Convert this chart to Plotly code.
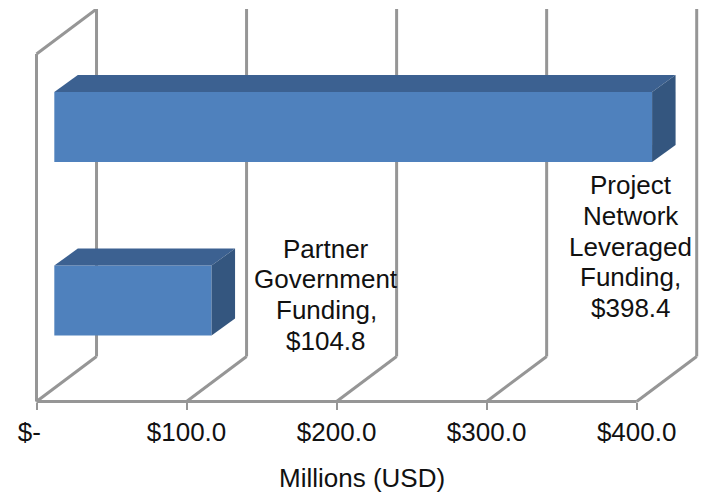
import plotly.graph_objects as go

categories = ["Partner Government Funding", "Project Network Leveraged Funding"]
values = [104.8, 398.4]
label_lines = [["Partner", "Government", "Funding,", "$104.8"],
               ["Project", "Network", "Leveraged", "Funding,", "$398.4"]]
tick_vals = [0, 100, 200, 300, 400]
tick_text = ["$-\u00a0\u00a0", "$100.0", "$200.0", "$300.0", "$400.0"]
axis_title = "Millions (USD)"

W, H = 701, 493
PXX = 1.5                     # px per value unit
ZERO = 36.7                   # px of value 0
PAD = 4.5                     # room so wall lines are not cut by the plot edge
L, R = ZERO - PAD, 701.0
T, B = 9.0, 401.7 + PAD
XMIN, XMAX = -PAD / PXX, (R - ZERO) / PXX
CAT = 173.7                   # px per category
FLOOR = -101 / CAT
YTOP = FLOOR + (401.7 - T) / CAT
YLOW = FLOOR - PAD / CAT
dx_wall, dy_wall = 60 / PXX, 45 / CAT
dx_bar, dy_bar = 23.5 / PXX, 17 / CAT
base = 17.8 / PXX
bar_w = 70 / CAT
wall_front_top = FLOOR + (401.7 - 54) / CAT

FRONT, TOP, SIDE = "#4F81BD", "#3C6191", "#34567F"
GRID = "#969696"
FONT = "Liberation Sans"

fig = go.Figure()
ys = list(range(len(values)))
fig.add_trace(go.Bar(y=ys, x=values, base=[base] * len(values), orientation="h",
                     width=bar_w, marker=dict(color=FRONT, line=dict(width=0)),
                     hoverinfo="skip", showlegend=False))
for i, v in zip(ys, values):
    x0, x1 = base, base + v
    y0, y1 = i - bar_w / 2, i + bar_w / 2
    fig.add_trace(go.Scatter(x=[x0, x0 + dx_bar, x1 + dx_bar, x1, x0],
                             y=[y1, y1 + dy_bar, y1 + dy_bar, y1, y1],
                             mode="lines", fill="toself", fillcolor=TOP,
                             line=dict(width=0), hoverinfo="skip", showlegend=False))
    fig.add_trace(go.Scatter(x=[x1, x1 + dx_bar, x1 + dx_bar, x1, x1],
                             y=[y0, y0 + dy_bar, y1 + dy_bar, y1, y0],
                             mode="lines", fill="toself", fillcolor=SIDE,
                             line=dict(width=0), hoverinfo="skip", showlegend=False))

shapes = []
line = dict(color=GRID, width=3)
for t in tick_vals:
    shapes.append(dict(type="line", layer="below", xref="x", yref="y", x0=t, x1=t + dx_wall,
                       y0=FLOOR, y1=FLOOR + dy_wall, line=line))
    shapes.append(dict(type="line", layer="below", xref="x", yref="y", x0=t + dx_wall, x1=t + dx_wall,
                       y0=FLOOR + dy_wall, y1=YTOP, line=line))
shapes.append(dict(type="line", layer="below", xref="x", yref="y", x0=0, x1=0,
                   y0=FLOOR, y1=wall_front_top, line=line))
shapes.append(dict(type="line", layer="below", xref="x", yref="y", x0=0, x1=dx_wall,
                   y0=wall_front_top, y1=YTOP, line=line))
shapes.append(dict(type="line", layer="below", xref="x", yref="y", x0=tick_vals[0], x1=tick_vals[-1],
                   y0=FLOOR, y1=FLOOR, line=line))

def px(wx):
    return (wx - L) / (R - L)

def py(wy):
    return (B - wy) / (B - T)

annotations = []
SPACING = 30.7
label_pos = [(326.5, 248.7), (631, 185.3)]   # centre x px, first-line centre y px
for lines, (cx, cy) in zip(label_lines, label_pos):
    for k, s in enumerate(lines):
        annotations.append(dict(text=s, xref="paper", yref="paper",
                                x=px(cx), y=py(cy + k * SPACING),
                                xanchor="center", yanchor="middle", showarrow=False,
                                font=dict(family=FONT, size=26, color="#111111")))
annotations.append(dict(text=axis_title, xref="paper", yref="paper", x=px(362), y=py(478),
                        xanchor="center", yanchor="middle", showarrow=False,
                        font=dict(family=FONT, size=26, color="#111111")))

fig.update_layout(
    width=W, height=H, autosize=False,
    margin=dict(l=L, r=W - R, t=T, b=H - B, pad=0),
    paper_bgcolor="white", plot_bgcolor="rgba(0,0,0,0)",
    shapes=shapes, annotations=annotations, showlegend=False,
    font=dict(family=FONT, color="#000000"),
    xaxis=dict(range=[XMIN, XMAX], tickvals=tick_vals, ticktext=tick_text, ticks="outside",
               ticklen=7, tickwidth=2, tickcolor=GRID, showgrid=False, zeroline=False,
               showline=False, anchor="free", position=PAD / (B - T),
               tickfont=dict(family=FONT, size=26, color="#111111")),
    yaxis=dict(range=[YLOW, YTOP], visible=False),
)
fig.write_html("out.html", config=dict(displayModeBar=False),
               default_width=f"{W}px", default_height=f"{H}px",
               post_script="document.body.style.margin='0';document.documentElement.style.overflow='hidden';")
